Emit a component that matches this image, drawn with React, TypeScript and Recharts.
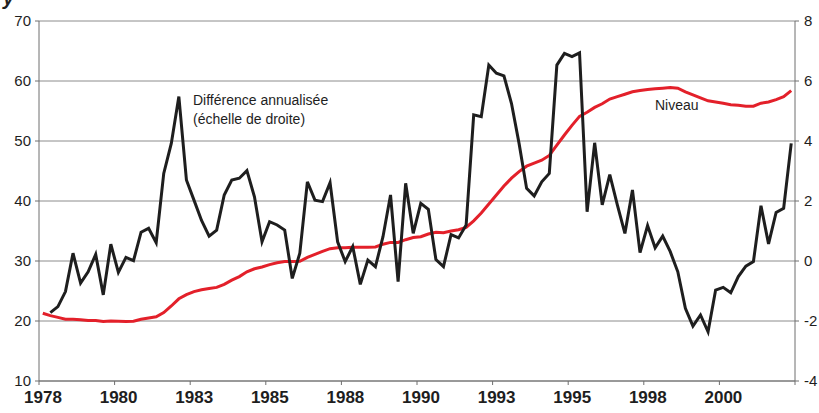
import { LineChart, Line, XAxis, YAxis, CartesianGrid } from "recharts";

// quarterly observations, 1978Q1 .. 2002Q4 (100 quarters)
const tickLabels = ["1978", "1980", "1983", "1985", "1988", "1990", "1993", "1995", "1998", "2000", ""];

// Niveau (left scale)
const niveau = [
  21.3, 20.9, 20.6, 20.3, 20.3, 20.2, 20.1, 20.1, 19.9, 20.0,
  19.95, 19.9, 19.95, 20.3, 20.5, 20.7, 21.4, 22.5, 23.7, 24.4,
  24.9, 25.2, 25.4, 25.6, 26.1, 26.8, 27.4, 28.2, 28.7, 29.0,
  29.4, 29.7, 29.9, 29.9, 29.95, 30.6, 31.1, 31.6, 32.05, 32.2,
  32.2, 32.3, 32.3, 32.3, 32.35, 32.8, 33.1, 33.1, 33.55, 33.9,
  34.05, 34.5, 34.8, 34.7, 35.0, 35.2, 35.6, 36.7, 38.0, 39.5,
  41.0, 42.5, 43.8, 44.9, 45.8, 46.3, 46.8, 47.6, 49.3, 51.0,
  52.6, 54.1, 54.8, 55.6, 56.2, 57.0, 57.4, 57.8, 58.2, 58.4,
  58.6, 58.7, 58.8, 58.9, 58.8, 58.2, 57.7, 57.2, 56.7, 56.5,
  56.3, 56.05, 55.95, 55.8, 55.8, 56.3, 56.5, 56.9, 57.4, 58.4,
];

// Différence annualisée (right scale)
const difference = [
  null, -1.72, -1.52, -1.02, 0.26, -0.74, -0.36, 0.22, -1.13, 0.56,
  -0.38, 0.12, 0.01, 0.96, 1.09, 0.61, 2.92, 3.92, 5.48, 2.7,
  2.03, 1.35, 0.83, 1.03, 2.2, 2.7, 2.76, 3.01, 2.14, 0.64,
  1.31, 1.2, 1.03, -0.58, 0.26, 2.64, 2.03, 1.98, 2.61, 0.64,
  -0.02, 0.48, -0.78, 0.03, -0.19, 0.81, 2.2, -0.69, 2.59, 0.92,
  1.92, 1.72, 0.05, -0.19, 0.88, 0.77, 1.2, 4.87, 4.81, 6.53,
  6.26, 6.17, 5.25, 3.92, 2.42, 2.17, 2.64, 2.92, 6.53, 6.92,
  6.81, 6.94, 1.64, 3.94, 1.87, 2.88, 1.87, 0.92, 2.37, 0.28,
  1.18, 0.44, 0.83, 0.31, -0.36, -1.58, -2.17, -1.8, -2.36, -0.97,
  -0.88, -1.06, -0.52, -0.17, -0.02, 1.84, 0.57, 1.62, 1.76, 3.92,
];

const chartData = niveau.map((v, i) => ({ i, niveau: v, difference: difference[i] }));

const xTicks = tickLabels.map((_, k) => k * 10 - 0.5);
const leftTicks = [10, 20, 30, 40, 50, 60, 70];
const rightTicks = [-4, -2, 0, 2, 4, 6, 8];

const FONT = "'Liberation Sans', Arial, sans-serif";

const XTick = (props: any) => {
  const { x, y, payload } = props;
  const label = tickLabels[Math.round((payload.value + 0.5) / 10)] || "";
  return (
    <text x={x + 4} y={y} dy={18} textAnchor="middle" fontFamily={FONT} fontSize={17} fontWeight="bold" fill="#1e1e1e">
      {label}
    </text>
  );
};

const App = () => {
  return (
    <div style={{ position: "relative", width: 819, height: 413, background: "#fff", overflow: "hidden", fontFamily: FONT }}>
      <style>{`body{margin:0}`}</style>
      <div style={{ position: "absolute", left: 3, top: -13, fontSize: 20, fontWeight: "bold", fontStyle: "italic", color: "#222" }}>
        y
      </div>
      <LineChart width={819} height={413} data={chartData} margin={{ top: 21, right: 0, bottom: 0, left: 0 }}>
        <CartesianGrid yAxisId="left" vertical={false} stroke="#8c8c8c" strokeWidth={1} />
        <XAxis
          dataKey="i"
          type="number"
          domain={[-0.5, 99.5]}
          ticks={xTicks}
          interval={0}
          height={32}
          tickSize={4}
          tickMargin={0}
          tick={<XTick />}
          stroke="#6e6e6e"
          tickLine={{ stroke: "#6e6e6e" }}
        />
        <YAxis
          yAxisId="left"
          domain={[10, 70]}
          ticks={leftTicks}
          interval={0}
          width={39}
          tickSize={4}
          tickMargin={4}
          stroke="#6e6e6e"
          tick={{ fontSize: 15, fill: "#1e1e1e", fontFamily: FONT }}
        />
        <YAxis
          yAxisId="right"
          orientation="right"
          domain={[-4, 8]}
          ticks={rightTicks}
          interval={0}
          width={24}
          tickSize={4}
          tickMargin={5}
          stroke="#6e6e6e"
          tick={{ fontSize: 15, fill: "#1e1e1e", fontFamily: FONT, textAnchor: "start" }}
        />
        <Line
          yAxisId="left"
          type="linear"
          dataKey="niveau"
          stroke="#e3202a"
          strokeWidth={3}
          dot={false}
          isAnimationActive={false}
        />
        <Line
          yAxisId="right"
          type="linear"
          dataKey="difference"
          stroke="#1e1e1e"
          strokeWidth={3}
          dot={false}
          connectNulls={false}
          isAnimationActive={false}
        />
      </LineChart>
      <div style={{ position: "absolute", left: 193, top: 91, fontSize: 14, lineHeight: "19px", color: "#1e1e1e" }}>
        Différence annualisée
        <br />
        (échelle de droite)
      </div>
      <div style={{ position: "absolute", left: 655, top: 97, fontSize: 14, color: "#1e1e1e" }}>Niveau</div>
    </div>
  );
};

export default App;
